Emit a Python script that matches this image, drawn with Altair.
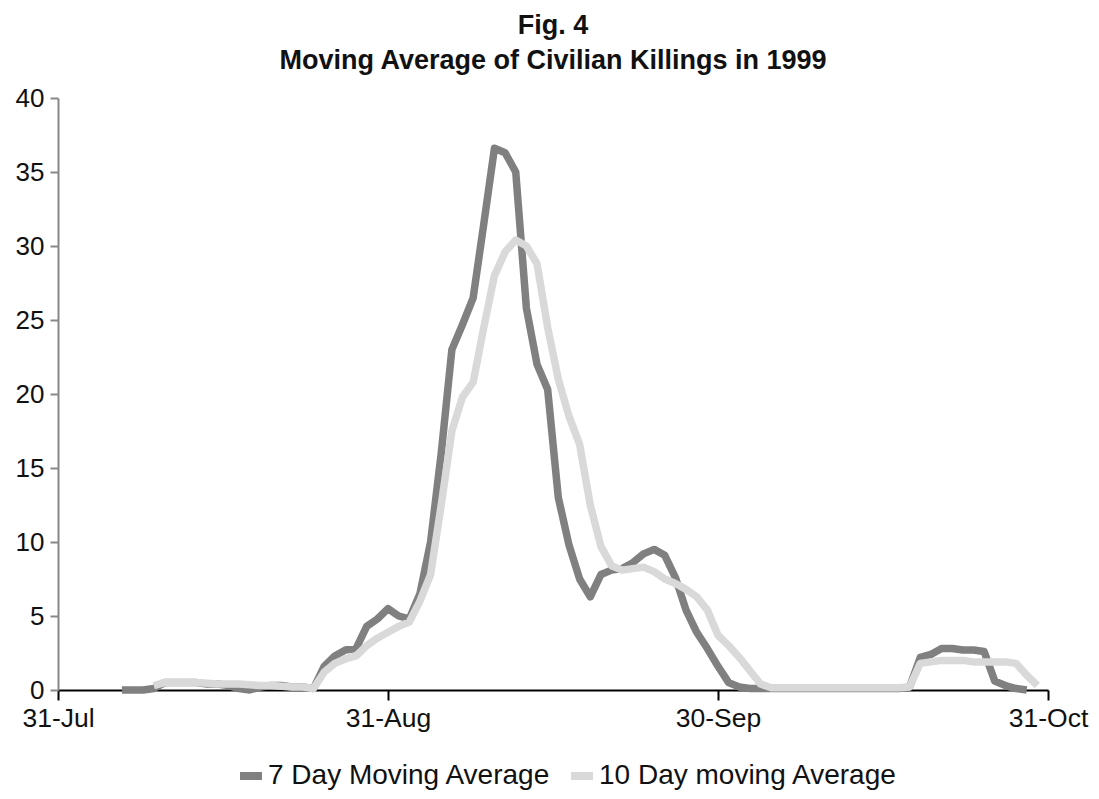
import altair as alt
import pandas as pd

# Day offsets counted from 31-Jul-1999
dark_start = 6
dark_values = [
    0.0, 0.0, 0.0, 0.1,                                   # d6-9
    0.5, 0.5, 0.5, 0.5, 0.4, 0.4, 0.3, 0.1, 0.0, 0.2,     # d10-19
    0.3, 0.3, 0.2, 0.2, 0.1, 1.6, 2.3, 2.7, 2.8, 4.3,     # d20-29
    4.8, 5.5, 5.0, 4.8, 6.5, 10.0, 16.0, 23.0, 24.7, 26.5, # d30-39
    31.5, 36.6, 36.3, 35.0, 25.8, 22.0, 20.3, 13.0, 9.8, 7.5,  # d40-49
    6.3, 7.8, 8.1, 8.2, 8.6, 9.2, 9.5, 9.1, 7.6, 5.4,     # d50-59
    3.9, 2.8, 1.6, 0.5, 0.2, 0.1, 0.1, 0.1, 0.1, 0.1,     # d60-69
    0.1, 0.1, 0.1, 0.1, 0.1, 0.1, 0.1, 0.1, 0.1, 0.1,     # d70-79
    0.2, 2.2, 2.4, 2.8, 2.8, 2.7, 2.7, 2.6, 0.6, 0.3,     # d80-89
    0.1, 0.0,                                             # d90-91
]

light_start = 9
light_values = [
    0.3,                                                  # d9
    0.5, 0.5, 0.5, 0.5, 0.45, 0.4, 0.4, 0.4, 0.35, 0.3,   # d10-19
    0.3, 0.25, 0.2, 0.2, 0.1, 1.2, 1.8, 2.1, 2.3, 3.0,    # d20-29
    3.5, 3.9, 4.3, 4.6, 6.0, 7.8, 12.5, 17.5, 19.8, 20.8, # d30-39
    24.5, 28.0, 29.6, 30.4, 30.0, 28.8, 24.5, 21.0, 18.5, 16.6,  # d40-49
    12.5, 9.7, 8.4, 8.1, 8.2, 8.3, 8.0, 7.5, 7.2, 6.8,    # d50-59
    6.3, 5.4, 3.7, 3.0, 2.2, 1.3, 0.4, 0.15, 0.15, 0.15,  # d60-69
    0.15, 0.15, 0.15, 0.15, 0.15, 0.15, 0.15, 0.15, 0.15, 0.15,  # d70-79
    0.2, 1.8, 1.9, 2.0, 2.0, 2.0, 1.9, 1.9, 1.9, 1.9,     # d80-89
    1.8, 1.0, 0.3,                                        # d90-92
]

series_names = ["7 Day Moving Average", "10 Day moving Average"]
series_colors = ["#808080", "#d9d9d9"]

tick_values = [0, 31, 62, 93]
tick_labels = ["31-Jul", "31-Aug", "30-Sep", "31-Oct"]

y_ticks = [0, 5, 10, 15, 20, 25, 30, 35, 40]

dark_df = pd.DataFrame({
    "day": list(range(dark_start, dark_start + len(dark_values))),
    "value": dark_values,
    "series": series_names[0],
})
light_df = pd.DataFrame({
    "day": list(range(light_start, light_start + len(light_values))),
    "value": light_values,
    "series": series_names[1],
})

label_expr = ""
for v, lab in zip(tick_values, tick_labels):
    label_expr += f"datum.value == {v} ? '{lab}' : "
label_expr += "''"

FONT = "Liberation Sans"

x_enc = alt.X(
    "day:Q",
    scale=alt.Scale(domain=[tick_values[0], tick_values[-1]], nice=False, zero=False),
    axis=alt.Axis(
        values=tick_values, labelExpr=label_expr, title=None, grid=False,
        domainColor="black", domainWidth=2, tickColor="black", tickWidth=2,
        tickSize=10, labelFontSize=26.5, labelFont=FONT, labelColor="#111111",
        labelPadding=5, labelFlush=False,
    ),
)
y_enc = alt.Y(
    "value:Q",
    scale=alt.Scale(domain=[0, 40], nice=False),
    axis=alt.Axis(
        values=y_ticks, title=None, grid=False,
        domainColor="#888888", domainWidth=2, tickColor="#888888", tickWidth=2,
        tickSize=8, labelFontSize=26, labelFont=FONT, labelColor="#111111",
        labelPadding=6,
    ),
)
color_enc = alt.Color(
    "series:N",
    scale=alt.Scale(domain=series_names, range=series_colors),
    legend=alt.Legend(
        title=None, orient="none", direction="horizontal",
        legendX=178, legendY=663,
        symbolType="stroke", symbolStrokeWidth=8, symbolSize=484,
        labelFontSize=28, labelFont=FONT, labelColor="#111111",
        labelOffset=2, columnPadding=4, symbolOpacity=1, labelLimit=0,
    ),
)

dark_line = alt.Chart(dark_df).mark_line(
    strokeWidth=7.5, strokeJoin="round", strokeCap="butt"
).encode(x=x_enc, y=y_enc, color=color_enc)

light_line = alt.Chart(light_df).mark_line(
    strokeWidth=7.5, strokeJoin="round", strokeCap="butt"
).encode(x=x_enc, y=y_enc, color=color_enc)

chart = alt.layer(dark_line, light_line).properties(
    width=990,
    height=592,
    background="white",
    title=alt.TitleParams(
        text=["Fig. 4", "Moving Average of Civilian Killings in 1999"],
        font=FONT, fontSize=27, fontWeight="bold", color="#111111",
        anchor="middle", offset=10, lineHeight=35,
    ),
    autosize=alt.AutoSizeParams(type="none"),
    padding={"left": 50, "top": 90, "right": 43, "bottom": 101},
).configure_view(stroke=None, strokeWidth=0)

chart.save("out.html", embed_options={"renderer": "svg", "actions": False})
